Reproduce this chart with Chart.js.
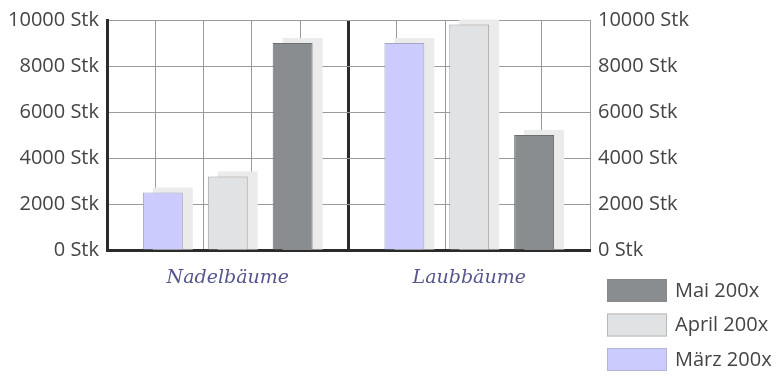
<!DOCTYPE html>
<html>
<head>
<meta charset="utf-8">
<script src="https://cdn.jsdelivr.net/npm/chart.js@4"></script>
<style>
  html, body { margin: 0; padding: 0; background: #fff; }
  #wrap { width: 779px; height: 376px; position: relative; }
</style>
</head>
<body>
<div id="wrap"><canvas id="chart-canvas"></canvas></div>
<script>
var categories = ['Nadelbäume', 'Laubbäume'];
var seriesNames = ['März 200x', 'April 200x', 'Mai 200x'];
var maerz = [2500, 9000];
var april = [3200, 9800];
var mai = [9000, 5000];
var yTicks = [0, 2000, 4000, 6000, 8000, 10000];

var tickFont = { family: 'Open Sans', size: 20 };

function isMiddle(c) {
    return c.tick && c.tick.value === 5;
}

// grey drop shadow behind each bar, taken from the bar elements
var barShadow = {
    id: 'barShadow',
    beforeDatasetsDraw: function(chart) {
        var ctx = chart.ctx;
        ctx.save();
        ctx.fillStyle = '#ebebeb';
        chart.data.datasets.forEach(function(ds, i) {
            chart.getDatasetMeta(i).data.forEach(function(bar) {
                var w = bar.width;
                ctx.fillRect(bar.x - w / 2 + 10, bar.y - 5, w, bar.base - bar.y + 5);
            });
        });
        ctx.restore();
    }
};

// legend in the lower right corner, last series on top
var boxLegend = {
    id: 'boxLegend',
    afterDraw: function(chart) {
        var ctx = chart.ctx;
        var sets = chart.data.datasets.slice().reverse();
        ctx.save();
        ctx.font = '20px "Open Sans"';
        ctx.textBaseline = 'middle';
        sets.forEach(function(ds, i) {
            var y = 279 + i * 34.5;
            ctx.fillStyle = ds.backgroundColor;
            ctx.fillRect(607, y, 60, 23);
            ctx.strokeStyle = ds.legendBorder;
            ctx.lineWidth = 1;
            ctx.strokeRect(607.5, y + 0.5, 59, 22);
            ctx.fillStyle = '#444';
            ctx.fillText(ds.label, 675, y + 12);
        });
        ctx.restore();
    }
};

new Chart(document.getElementById('chart-canvas'), {
    type: 'bar',
    data: {
        labels: categories,
        datasets: [
            { label: seriesNames[0], data: maerz, backgroundColor: '#cbcbfd', borderColor: '#a4a4c4', legendBorder: '#b4b4d8' },
            { label: seriesNames[1], data: april, backgroundColor: '#e1e2e4', borderColor: '#9d9d9d', legendBorder: '#b8b8b8' },
            { label: seriesNames[2], data: mai, backgroundColor: '#8a8d90', borderColor: '#6c6f72', legendBorder: '#888' }
        ]
    },
    options: {
        responsive: true,
        maintainAspectRatio: false,
        animation: false,
        categoryPercentage: 0.806,
        barPercentage: 0.615,
        borderWidth: 1,
        layout: { padding: { top: 16, left: 0, right: 0, bottom: 0 } },
        plugins: {
            legend: { display: false },
            tooltip: { enabled: false }
        },
        scales: {
            x: {
                position: 'bottom',
                grid: { display: false },
                border: { display: true, color: '#2b2b2b', width: 3 },
                ticks: {
                    color: '#55558f',
                    padding: 9,
                    font: { family: 'DejaVu Serif', style: 'italic', size: 19 }
                },
                afterFit: function(s) { s.height = 126; }
            },
            gx: {
                type: 'linear',
                position: 'top',
                min: 0,
                max: 10,
                offset: false,
                ticks: { display: false, stepSize: 1 },
                border: { display: false },
                grid: {
                    offset: false,
                    drawTicks: false,
                    color: function(c) { return isMiddle(c) ? '#2b2b2b' : '#9a9a9a'; },
                    lineWidth: function(c) { return isMiddle(c) ? 3 : 1; }
                },
                afterFit: function(s) { s.height = 0; }
            },
            y: {
                position: 'left',
                min: 0,
                max: 10000,
                afterBuildTicks: function(s) { s.ticks = yTicks.map(function(v) { return { value: v }; }); },
                grid: { color: '#9a9a9a', lineWidth: 1, drawTicks: false },
                border: { display: true, color: '#2b2b2b', width: 3 },
                ticks: {
                    color: '#444',
                    padding: 8,
                    font: tickFont,
                    callback: function(v) { return v + ' Stk'; }
                },
                afterFit: function(s) { s.width = 107; }
            },
            y2: {
                position: 'right',
                min: 0,
                max: 10000,
                afterBuildTicks: function(s) { s.ticks = yTicks.map(function(v) { return { value: v }; }); },
                grid: { display: false, drawTicks: false },
                border: { display: false },
                ticks: {
                    color: '#444',
                    padding: 8,
                    font: tickFont,
                    callback: function(v) { return v + ' Stk'; }
                },
                afterFit: function(s) { s.width = 189; }
            }
        }
    },
    plugins: [barShadow, boxLegend]
});
</script>
</body>
</html>
